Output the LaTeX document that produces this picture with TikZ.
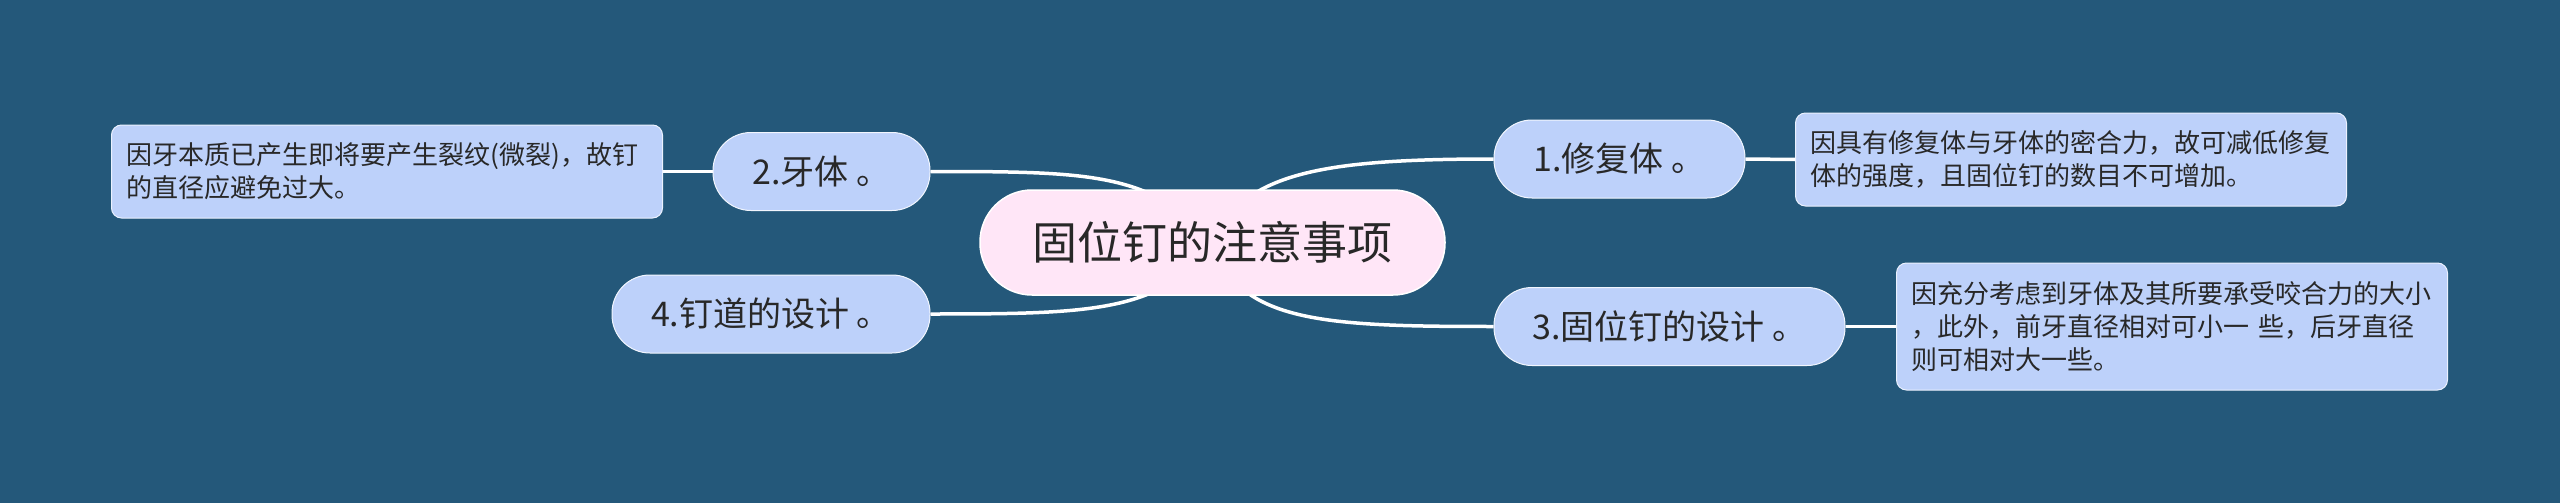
\documentclass[tikz,border=0pt]{standalone}
\usepackage{fontspec}
\setmainfont{Noto Sans CJK SC}
\usetikzlibrary{calc}
\definecolor{bgc}{RGB}{36,88,122}
\definecolor{nodec}{RGB}{189,209,250}
\definecolor{rootc}{RGB}{255,230,247}
\definecolor{txtc}{RGB}{40,40,40}
\pgfdeclarelayer{bg}
\pgfsetlayers{bg,main}
\tikzset{
  rootbox/.style={fill=rootc, draw=white, line width=1.5pt, rounded corners=52pt, minimum width=465pt, minimum height=105pt, inner sep=0pt, text=txtc, font=\fontsize{45}{54}\selectfont},
  topicbox/.style={fill=nodec, draw=white!80!nodec, line width=1pt, rounded corners=38pt, minimum height=78pt, inner sep=0pt, text=txtc, font=\fontsize{34}{40}\selectfont},
  leafbox/.style={fill=nodec, draw=white!70!nodec, line width=1pt, rounded corners=10pt, anchor=west, inner xsep=15pt, inner ysep=0pt, text width=521pt, align=left, text=txtc, font=\fontsize{26}{33}\selectfont},
  link/.style={draw=white, line width=3.5pt}
}
\begin{document}
\begin{tikzpicture}[x=1pt,y=-1pt]
\begin{pgfonlayer}{bg}
\fill[bgc] (0,0) rectangle (2560,503);
\end{pgfonlayer}
\useasboundingbox (0,0) rectangle (2560,503);
\node[rootbox] (root) at (1212.5,242.5) {固位钉的注意事项};
\node[topicbox, minimum width=251pt] (n1) at (1619.5,159) {1.修复体 。};
\node[topicbox, minimum width=217pt] (n2) at (821.5,171.5) {2.牙体 。};
\node[topicbox, minimum width=351pt] (n3) at (1669.5,326.5) {3.固位钉的设计 。};
\node[topicbox, minimum width=318pt] (n4) at (771,314) {4.钉道的设计 。};
\node[leafbox, minimum height=93pt] (l1) at (1795,159.5) {因具有修复体与牙体的密合力，故可减低修复\\体的强度，且固位钉的数目不可增加。};
\node[leafbox, minimum height=93pt, anchor=east] (l2) at (663,171.5) {因牙本质已产生即将要产生裂纹(微裂)，故钉\\的直径应避免过大。};
\node[leafbox, minimum height=127pt] (l3) at (1896,326.5) {因充分考虑到牙体及其所要承受咬合力的大小\\，此外，前牙直径相对可小一 些，后牙直径\\则可相对大一些。};
\begin{pgfonlayer}{bg}
\draw[link] (root.center) .. controls ($(root.center)+(30,-70)$) and ($(n1.west)+(-170,0)$) .. (n1.west);
\draw[link] (root.center) .. controls ($(root.center)+(-60,-70)$) and ($(n2.east)+(160,0)$) .. (n2.east);
\draw[link] (root.center) .. controls ($(root.center)+(25,80)$) and ($(n3.west)+(-170,0)$) .. (n3.west);
\draw[link] (root.center) .. controls ($(root.center)+(-50,70)$) and ($(n4.east)+(160,0)$) .. (n4.east);
\draw[link] (n1.east) -- (l1.west);
\draw[link] (n2.west) -- (l2.east);
\draw[link] (n3.east) -- (l3.west);
\end{pgfonlayer}
\end{tikzpicture}
\end{document}
